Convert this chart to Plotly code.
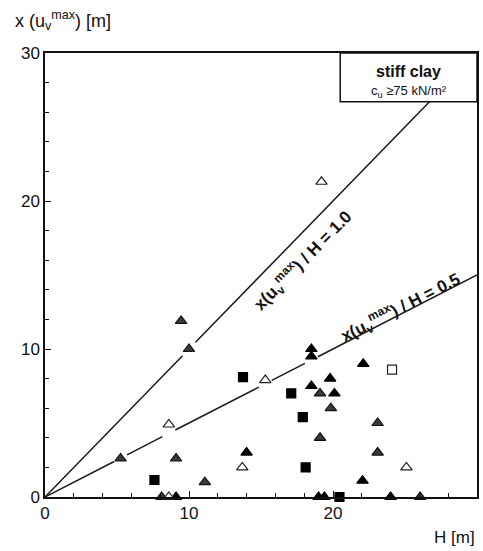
import numpy as np
import plotly.graph_objects as go

# Measured depth of maximum settlement x(u_v^max) versus excavation depth H
# filled triangles
tri_fill_H = [18.5, 18.5, 22.1, 19.8, 18.5, 20.1, 14.0, 22.05, 9.1, 19.0, 19.4, 24.0]
tri_fill_x = [10.0, 9.5, 9.0, 8.0, 7.5, 7.0, 3.0, 1.1, 0.0, 0.0, 0.0, 0.0]
# hatched triangles
tri_hatch_H = [9.45, 10.0, 5.25, 9.1, 11.1, 19.1, 19.85, 23.1, 19.1, 23.1, 8.1, 26.05]
tri_hatch_x = [11.9, 10.0, 2.6, 2.6, 1.0, 7.0, 6.0, 5.0, 4.0, 3.0, 0.0, 0.0]
# open triangles
tri_open_H = [19.2, 8.6, 15.3, 13.7, 25.1, 8.6]
tri_open_x = [21.3, 4.9, 7.9, 2.0, 2.0, 0.0]
# filled squares
sq_fill_H = [13.75, 17.1, 17.9, 7.6, 18.1, 20.45]
sq_fill_x = [8.1, 7.0, 5.4, 1.15, 2.0, 0.0]
# open squares
sq_open_H = [24.1]
sq_open_x = [8.6]

ratios = [1.0, 0.5]
ratio_labels = ["<b>x(u<sub>v</sub><sup>max</sup>) / H = 1.0</b>",
                "<b>x(u<sub>v</sub><sup>max</sup>) / H = 0.5</b>"]

x_ticks = [0, 10, 20, 30]
y_ticks = [0, 10, 20, 30]

box_x0, box_y0 = 20.5, 26.7   # info box lower-left corner (extends to the axes corner)

all_H = tri_fill_H + tri_hatch_H + tri_open_H + sq_fill_H + sq_open_H
all_x = tri_fill_x + tri_hatch_x + tri_open_x + sq_fill_x + sq_open_x


def ratio_line(r, h_end, gap=0.45):
    """Line x = r*H with small breaks where a symbol sits on it."""
    centres = sorted(h for h, v in zip(all_H, all_x)
                     if h > 1 and abs(v - r * h) / np.sqrt(1 + r * r) < 0.6)
    xs, ys = [0.0], [0.0]
    for c in centres:
        xs += [c - gap, None, c + gap]
        ys += [r * (c - gap), None, r * (c + gap)]
    xs.append(h_end)
    ys.append(r * h_end)
    return xs, ys


fig = go.Figure()

ends = [box_y0 / 1.0, 30.0]
for r, e in zip(ratios, ends):
    lx, ly = ratio_line(r, e)
    fig.add_trace(go.Scatter(x=lx, y=ly, mode="lines",
                             line=dict(color="#1a1a1a", width=1.5),
                             hoverinfo="skip", showlegend=False))

marker_sets = [
    (tri_fill_H, tri_fill_x, "triangle-up", "#000000", "#000000"),
    (tri_hatch_H, tri_hatch_x, "triangle-up", "#3a3a3a", "#111111"),
    (tri_open_H, tri_open_x, "triangle-up", "#ffffff", "#222222"),
    (sq_fill_H, sq_fill_x, "square", "#000000", "#000000"),
    (sq_open_H, sq_open_x, "square", "#ffffff", "#222222"),
]
for hx, vy, sym, fill, edge in marker_sets:
    fig.add_trace(go.Scatter(
        x=hx, y=vy, mode="markers", cliponaxis=False, showlegend=False,
        marker=dict(symbol=sym, size=10 if sym == "triangle-up" else 9,
                    color=fill, line=dict(color=edge, width=1.2))))

# info box in the upper right corner
fig.add_shape(type="rect", x0=box_x0, y0=box_y0, x1=30, y1=30,
              line=dict(color="#111111", width=1.5), fillcolor="white", layer="above")
fig.add_annotation(x=(box_x0 + 30) / 2, y=28.75, text="<b>stiff clay</b>", showarrow=False,
                   font=dict(size=16, color="#111111"))
fig.add_annotation(x=(box_x0 + 30) / 2, y=27.4,
                   text="c<sub>u</sub> ≥75 kN/m²", showarrow=False,
                   font=dict(size=13, color="#111111"))

# line labels
fig.add_annotation(x=17.9, y=16.0, text=ratio_labels[0], showarrow=False,
                   textangle=-45.6, font=dict(size=17, color="#111111", family="Liberation Sans"),
                   xanchor="center", yanchor="middle")
fig.add_annotation(x=24.7, y=12.8, text=ratio_labels[1], showarrow=False,
                   textangle=-27, font=dict(size=17, color="#111111", family="Liberation Sans"),
                   xanchor="center", yanchor="middle")

# axis titles
fig.add_annotation(xref="paper", yref="paper", x=-0.075, y=1.0, yshift=33,
                   text="x (u<sub>v</sub><sup>max</sup>) [m]", showarrow=False,
                   xanchor="left", yanchor="middle", font=dict(size=18, color="#111111"))
fig.add_annotation(xref="paper", yref="paper", x=1.0, y=0, yshift=-40,
                   text="H [m]", showarrow=False, xanchor="right", yanchor="middle",
                   font=dict(size=17, color="#111111"))

axis_common = dict(showgrid=False, zeroline=False, showline=True, linecolor="#111111",
                   linewidth=1.5, mirror=True, ticks="inside", ticklen=6, tickwidth=1.2,
                   tickcolor="#111111", tickfont=dict(size=17, color="#111111"),
                   minor=dict(ticks="inside", ticklen=4, tickwidth=1, dtick=2,
                              tickcolor="#111111"))

fig.update_xaxes(range=[0, 30], tickvals=x_ticks, ticktext=[str(t) for t in x_ticks],
                 **axis_common)
fig.update_yaxes(range=[0, 30], tickvals=y_ticks, ticktext=[str(t) for t in y_ticks],
                 **axis_common)

fig.update_layout(width=483, height=551, margin=dict(l=45, r=4, t=53, b=54),
                  plot_bgcolor="white", paper_bgcolor="white",
                  font=dict(family="Liberation Sans, Arial, sans-serif", color="#111111"))

fig.write_html("out.html")
